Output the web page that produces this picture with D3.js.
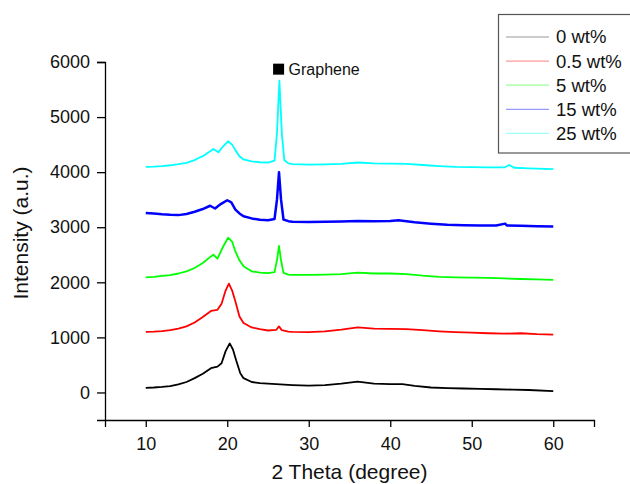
<!DOCTYPE html>
<html>
<head>
<meta charset="utf-8">
<script src="https://cdn.jsdelivr.net/npm/d3@7"></script>
<style>
body { margin: 0; background: #fff; }
svg { display: block; font-family: "Liberation Sans", Arial, sans-serif; }
</style>
</head>
<body>
<svg width="630" height="484"></svg>
<script>
// 2 theta (degree) / intensity pairs
var wt0 = [[10,85],[11,90],[12,100],[13,115],[14,145],[15,190],[16,260],[17,340],[18,440],[18.8,470],[19.3,530],
    [19.8,750],[20.3,890],[20.7,780],[21.1,580],[21.6,350],[22,260],[23,190],[24,170],[25,160],[26,150],[28,135],
    [30,125],[32,135],[34,160],[36,195],[38,160],[40,150],[41.5,150],[43,120],[45,90],[47,80],[49,72],[51,65],
    [53,58],[55,52],[57,45],[60,25]];
var wt05 = [[10,1100],[11,1105],[12,1115],[13,1130],[14,1160],[15,1200],[16,1270],[17,1370],[18,1480],[18.8,1500],
    [19.3,1610],[19.8,1850],[20.2,1975],[20.6,1850],[21,1650],[21.5,1380],[22,1260],[23,1180],[24,1150],[25,1125],
    [26,1135],[26.35,1200],[26.7,1130],[27.5,1105],[28,1100],[30,1095],[32,1110],[34,1140],[36,1180],[38,1160],
    [40,1155],[42,1150],[44,1130],[46,1110],[48,1095],[50,1085],[52,1075],[54,1068],[56,1075],[58,1058],[60,1050]];
var wt5 = [[10,2090],[11,2100],[12,2115],[13,2130],[14,2160],[15,2200],[16,2260],[17,2350],[18,2470],[18.3,2500],
    [18.8,2430],[19.5,2650],[20.1,2810],[20.6,2740],[21,2560],[21.5,2400],[22,2290],[23,2200],[24,2175],[25,2165],
    [25.8,2185],[26.1,2400],[26.35,2660],[26.6,2400],[26.9,2170],[27.5,2140],[28,2135],[30,2135],[32,2140],
    [34,2150],[36,2175],[38,2160],[40,2160],[42,2150],[44,2120],[46,2100],[48,2090],[50,2085],[52,2080],
    [54,2070],[56,2060],[58,2055],[60,2045]];
var wt15 = [[10,3260],[11,3250],[12,3235],[13,3225],[14,3220],[15,3240],[16,3280],[17,3330],[17.9,3390],[18.5,3340],
    [19.2,3420],[20,3490],[20.5,3450],[21,3320],[21.5,3250],[22,3200],[23,3160],[24,3135],[25,3125],[25.8,3150],
    [26.1,3500],[26.35,4000],[26.6,3500],[26.9,3140],[27.5,3110],[28,3100],[30,3095],[32,3100],[34,3105],
    [36,3115],[38,3108],[40,3115],[41,3125],[43,3090],[45,3065],[47,3045],[49,3035],[51,3030],[53,3030],
    [54.1,3065],[54.3,3032],[56,3025],[58,3020],[60,3015]];
var wt25 = [[10,4095],[11,4100],[12,4110],[13,4125],[14,4145],[15,4170],[16,4220],[17,4290],[18,4390],[18.3,4420],
    [18.9,4360],[19.5,4470],[20.1,4560],[20.6,4500],[21,4400],[21.5,4290],[22,4230],[23,4195],[24,4180],[25,4175],
    [25.8,4210],[26.1,4700],[26.4,5660],[26.7,4700],[27,4220],[27.5,4160],[28,4145],[29,4140],[30,4135],
    [32,4140],[34,4150],[36,4175],[38,4160],[40,4155],[42,4150],[44,4130],[46,4110],[48,4095],[50,4090],
    [52,4085],[54,4085],[54.6,4130],[55.2,4080],[57,4070],[60,4055]];

var seriesNames = ["0 wt%", "0.5 wt%", "5 wt%", "15 wt%", "25 wt%"];
var seriesData = [wt0, wt05, wt5, wt15, wt25];
var seriesColors = ["#000000", "#ff0000", "#00ff00", "#0000ff", "#00ffff"];

var xMajorTicks = [10, 20, 30, 40, 50, 60];
var xMinorTicks = [5, 15, 25, 35, 45, 55, 65];
var yMajorTicks = [0, 1000, 2000, 3000, 4000, 5000, 6000];
var yMinorTicks = [-500, 500, 1500, 2500, 3500, 4500, 5500];

var grapheneMark = [26.3, 5870];

var svg = d3.select("svg");

var x = d3.scaleLinear().domain([5, 65]).range([105, 594]);
var y = d3.scaleLinear().domain([-500, 6000]).range([420, 62]);

// axes
var gx = svg.append("g")
    .attr("transform", "translate(0," + y(-500) + ")");
gx.call(d3.axisBottom(x).tickValues(xMinorTicks).tickSize(4).tickFormat(""));
gx.call(d3.axisBottom(x).tickValues(xMajorTicks).tickSize(7).tickPadding(10).tickFormat(d3.format("d")));

var gy = svg.append("g")
    .attr("transform", "translate(" + x(5) + ",0)");
gy.call(d3.axisLeft(y).tickValues(yMinorTicks).tickSize(5).tickFormat(""));
gy.call(d3.axisLeft(y).tickValues(yMajorTicks).tickSize(8).tickPadding(7).tickFormat(d3.format("d")));

svg.selectAll(".domain").attr("stroke", "#000").attr("stroke-width", 1.3);
svg.selectAll(".tick line").attr("stroke", "#000").attr("stroke-width", 1.3);
svg.selectAll(".tick text")
    .attr("font-size", 18)
    .attr("font-family", "Liberation Sans, Arial, sans-serif")
    .attr("fill", "#111");

svg.append("text")
    .attr("x", (x(5) + x(65)) / 2)
    .attr("y", 479)
    .attr("text-anchor", "middle")
    .attr("font-size", 21)
    .attr("fill", "#111")
    .text("2 Theta (degree)");

svg.append("text")
    .attr("transform", "translate(28,233) rotate(-90)")
    .attr("text-anchor", "middle")
    .attr("font-size", 21)
    .attr("fill", "#111")
    .text("Intensity (a.u.)");

// curves
var line = d3.line()
    .x(function(d) { return x(d[0]); })
    .y(function(d) { return y(d[1]); });

svg.append("g")
    .selectAll("path")
    .data(seriesData)
    .enter().append("path")
    .attr("fill", "none")
    .attr("stroke", function(d, i) { return seriesColors[i]; })
    .attr("stroke-width", function(d, i) { return i == 3 ? 2.5 : 1.8; })
    .attr("stroke-linejoin", "round")
    .attr("d", line);

// graphene peak marker
svg.append("rect")
    .attr("x", x(grapheneMark[0]) - 5.5)
    .attr("y", y(grapheneMark[1]) - 5.5)
    .attr("width", 11)
    .attr("height", 11)
    .attr("fill", "#000");

svg.append("text")
    .attr("x", x(grapheneMark[0]) + 10)
    .attr("y", y(grapheneMark[1]) + 6)
    .attr("font-size", 16)
    .attr("fill", "#111")
    .text("Graphene");

// legend
var legend = svg.append("g");

legend.append("rect")
    .attr("x", 498.5)
    .attr("y", 14.5)
    .attr("width", 140)
    .attr("height", 138.5)
    .attr("fill", "#fff")
    .attr("stroke", "#555")
    .attr("stroke-width", 1.2);

var item = legend.selectAll(".item")
    .data(seriesNames)
    .enter().append("g")
    .attr("class", "item")
    .attr("transform", function(d, i) { return "translate(0," + (37 + i * 24.1) + ")"; });

item.append("line")
    .attr("x1", 506)
    .attr("x2", 549)
    .attr("stroke", function(d, i) { return seriesColors[i]; })
    .attr("stroke-opacity", 0.4)
    .attr("stroke-width", 1.2);

item.append("text")
    .attr("x", 556)
    .attr("dy", "0.35em")
    .attr("font-size", 18.5)
    .attr("fill", "#111")
    .text(function(d) { return d; });
</script>
</body>
</html>
